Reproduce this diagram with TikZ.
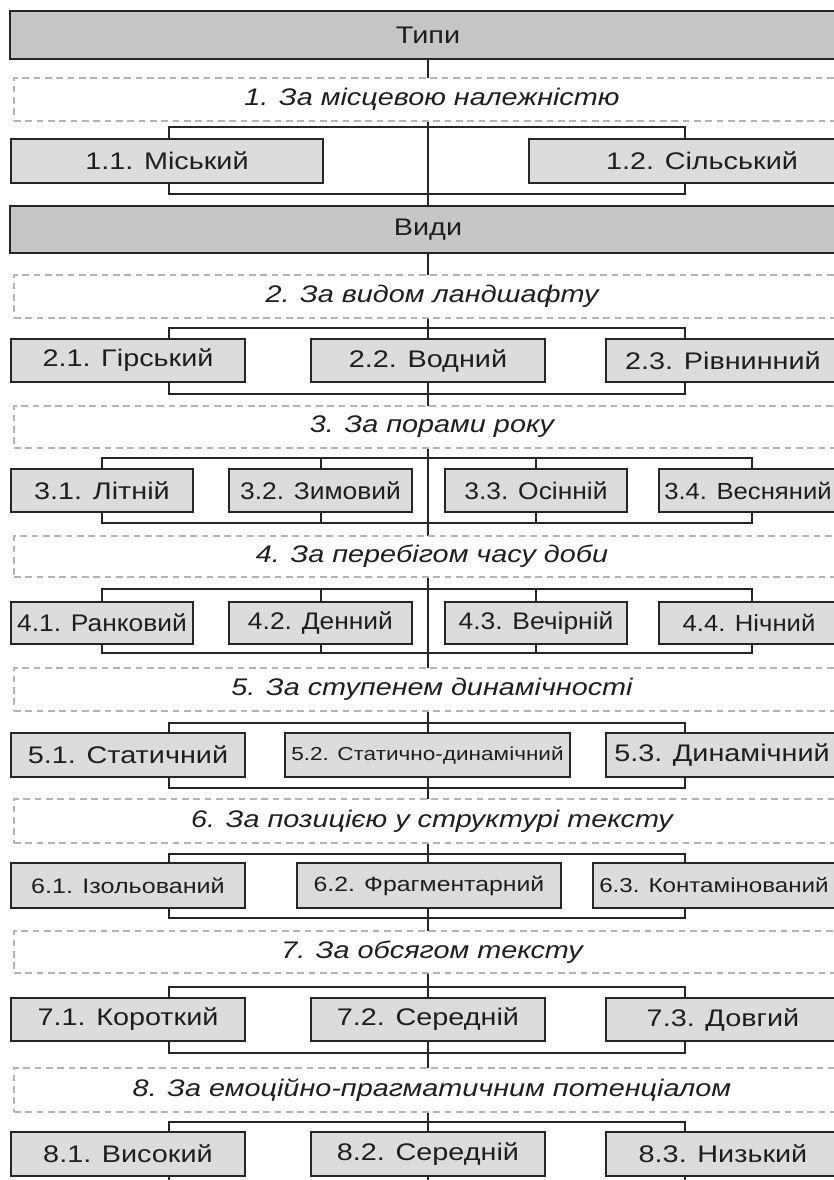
\documentclass[tikz,border=0pt]{standalone}
\usepackage{fontspec}
\setmainfont[FakeStretch=1.2]{Liberation Sans}
\newfontfamily\narrowfont[FakeStretch=1.1]{Liberation Sans}
\pgfdeclarelayer{bg}
\pgfsetlayers{bg,main}
\definecolor{bord}{HTML}{262626}
\definecolor{hdr}{HTML}{C6C6C6}
\definecolor{cell}{HTML}{DCDCDC}
\definecolor{dashc}{HTML}{B4B4B4}
\definecolor{ink}{HTML}{1E1E1E}
\tikzset{
 big/.style={draw=bord, fill=hdr, line width=1.5pt, inner sep=0pt, text=ink, font=\fontsize{18}{20}\selectfont},
 cellbox/.style={draw=bord, fill=cell, line width=1.5pt, inner sep=0pt, text=ink, font=\fontsize{18}{20}\selectfont},
 smallcell/.style={cellbox, font=\narrowfont\fontsize{18}{20}\selectfont},
 crit/.style={draw=dashc, dash pattern=on 5pt off 3.5pt, fill=white, line width=0.9pt, inner sep=0pt, text=ink, font=\fontsize{18}{20}\selectfont\itshape},
 link/.style={draw=bord, line width=1.5pt},
}
% #1 style, #2 name, #3..#6 corners in px, #7 text
\newcommand\mybx[7]{%
 \pgfmathsetmacro\bxcx{(#3+#5)/2}\pgfmathsetmacro\bxcy{(#4+#6)/2}%
 \pgfmathsetmacro\bxw{(#5-#3)*0.75}\pgfmathsetmacro\bxh{(#6-#4)*0.75}%
 \node[#1, minimum width=\bxw pt, minimum height=\bxh pt] (#2) at (\bxcx,\bxcy) {#7};}
\begin{document}
\begin{tikzpicture}[x=0.75pt,y=-0.75pt]
\useasboundingbox (0,0) rectangle (833,1180);
% headers
\mybx{big}{tp}{10}{11}{846}{59}{Типи}
\mybx{crit}{c1}{14}{78}{850}{121}{1. За місцевою належністю}
\mybx{cellbox}{b11}{11}{139}{323}{183}{1.1. Міський}
\mybx{cellbox}{b12}{529}{139}{875}{183}{1.2. Сільський}
\mybx{big}{vd}{10}{206}{846}{253}{Види}
% row 2
\mybx{crit}{c2}{14}{275}{850}{318}{2. За видом ландшафту}
\mybx{cellbox}{b21}{11}{339}{245}{382}{2.1. Гірський}
\mybx{cellbox}{b22}{311}{339}{545}{382}{2.2. Водний}
\mybx{cellbox}{b23}{606}{339}{840}{382}{2.3. Рівнинний}
% row 3
\mybx{crit}{c3}{14}{406}{850}{448}{3. За порами року}
\mybx{cellbox}{b31}{11}{469}{193}{512}{3.1. Літній}
\mybx{smallcell}{b32}{229}{469}{412}{512}{3.2. Зимовий}
\mybx{smallcell}{b33}{445}{469}{627}{512}{3.3. Осінній}
\mybx{smallcell,font=\narrowfont\fontsize{17.5}{20}\selectfont}{b34}{659}{469}{837}{512}{3.4. Весняний}
% row 4
\mybx{crit}{c4}{14}{536}{850}{577}{4. За перебігом часу доби}
\mybx{smallcell}{b41}{11}{602}{193}{644}{4.1. Ранковий}
\mybx{smallcell}{b42}{229}{602}{412}{644}{4.2. Денний}
\mybx{smallcell}{b43}{445}{602}{627}{644}{4.3. Вечірній}
\mybx{smallcell,font=\narrowfont\fontsize{17.5}{20}\selectfont}{b44}{659}{602}{839}{644}{4.4. Нічний}
% row 5
\mybx{crit}{c5}{14}{668}{850}{711}{5. За ступенем динамічності}
\mybx{cellbox}{b51}{11}{733}{245}{777}{5.1. Статичний}
\mybx{cellbox,font=\fontsize{14.1}{16}\selectfont}{b52}{285}{733}{570}{777}{5.2. Статично-динамічний}
\mybx{cellbox}{b53}{606}{733}{838}{777}{5.3. Динамічний}
% row 6
\mybx{crit}{c6}{14}{799}{850}{843}{6. За позицією у структурі тексту}
\mybx{cellbox,font=\fontsize{15.7}{18}\selectfont}{b61}{11}{863}{245}{908}{6.1. Ізольований}
\mybx{cellbox,font=\fontsize{15.5}{17}\selectfont}{b62}{297}{863}{561}{908}{6.2. Фрагментарний}
\mybx{cellbox,font=\fontsize{15.1}{17}\selectfont}{b63}{593}{863}{835}{908}{6.3. Контамінований}
% row 7
\mybx{crit}{c7}{14}{931}{850}{973}{7. За обсягом тексту}
\mybx{cellbox}{b71}{11}{998}{245}{1041}{7.1. Короткий}
\mybx{cellbox}{b72}{311}{998}{545}{1041}{7.2. Середній}
\mybx{cellbox}{b73}{606}{998}{840}{1041}{7.3. Довгий}
% row 8
\mybx{crit}{c8}{14}{1068}{850}{1112}{8. За емоційно-прагматичним потенціалом}
\mybx{cellbox}{b81}{11}{1132}{245}{1176}{8.1. Високий}
\mybx{cellbox}{b82}{311}{1132}{545}{1176}{8.2. Середній}
\mybx{cellbox}{b83}{606}{1132}{840}{1176}{8.3. Низький}
% bracket corners
\coordinate (k1a) at (169,127); \coordinate (k1b) at (685,194);
\coordinate (k2a) at (169,328); \coordinate (k2b) at (685,394);
\coordinate (k3a) at (102,458); \coordinate (k3b) at (752,523);
\coordinate (k4a) at (102,589); \coordinate (k4b) at (752,653);
\coordinate (k5a) at (169,723); \coordinate (k5b) at (685,788);
\coordinate (k6a) at (169,854); \coordinate (k6b) at (685,918);
\coordinate (k7a) at (169,987); \coordinate (k7b) at (685,1053);
\coordinate (k8a) at (169,1122); \coordinate (k8b) at (685,1200);
\coordinate (endline) at (428,1200);
\begin{pgfonlayer}{bg}
\draw[link] (tp.south) -- (endline);
\foreach \k in {1,2,3,4,5,6,7,8} {\draw[link] (k\k a) rectangle (k\k b);}
\draw[link] (b32.north) -- (b32.north |- k3a);
\draw[link] (b32.south) -- (b32.south |- k3b);
\draw[link] (b33.north) -- (b33.north |- k3a);
\draw[link] (b33.south) -- (b33.south |- k3b);
\draw[link] (b42.north) -- (b42.north |- k4a);
\draw[link] (b42.south) -- (b42.south |- k4b);
\draw[link] (b43.north) -- (b43.north |- k4a);
\draw[link] (b43.south) -- (b43.south |- k4b);
\end{pgfonlayer}
\end{tikzpicture}
\end{document}
